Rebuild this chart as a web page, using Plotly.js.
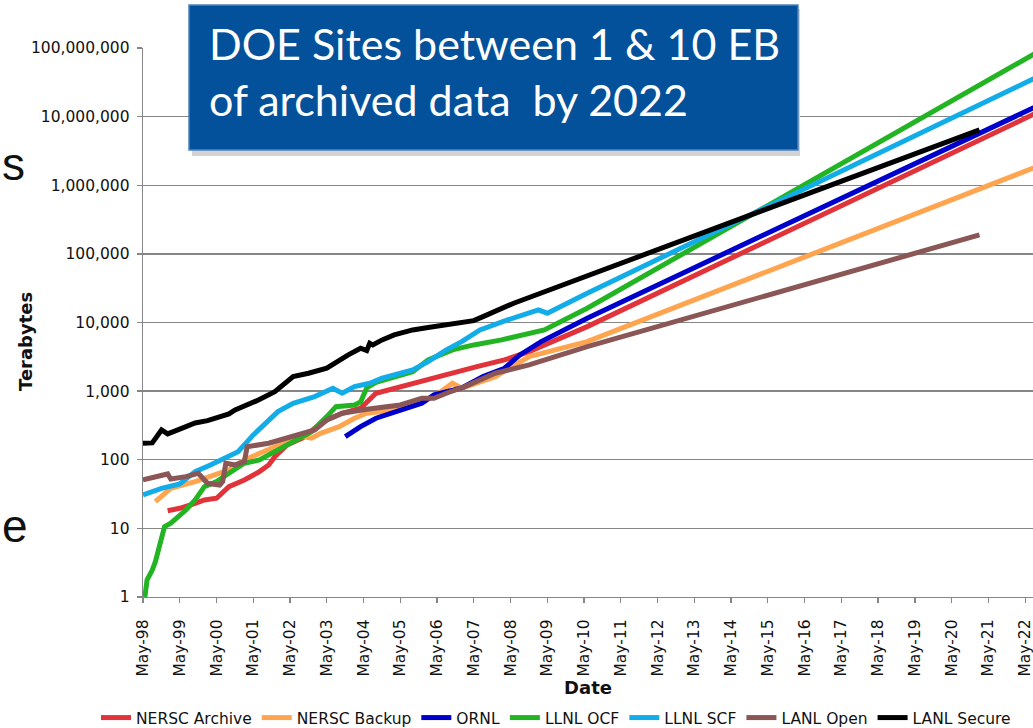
<!DOCTYPE html>
<html>
<head>
<meta charset="utf-8">
<script src="https://cdn.plot.ly/plotly-3.0.1.min.js"></script>
<style>html,body{margin:0;padding:0;background:#fff;}#chart{width:1033px;height:728px;}</style>
</head>
<body>
<div id="chart"></div>
<script>
// ---- Data (values in Terabytes) ----
var seriesNames = ['NERSC Archive','NERSC Backup','ORNL','LLNL OCF','LLNL SCF','LANL Open','LANL Secure'];
var seriesColors = ['#E1343A','#FFA54F','#0000CC','#22B422','#12ADE8','#8A5656','#000000'];

var nerscArchiveDates = ['1999-01-01','1999-05-01','1999-10-01','2000-01-01','2000-05-01','2000-07-01','2000-09-01','2001-02-01','2001-07-01','2001-10-01','2001-12-01','2002-04-01','2002-09-01','2003-01-01','2003-05-01','2003-10-01','2004-04-01','2004-09-01','2005-09-01','2006-07-01','2007-06-01','2008-03-01','2008-11-01','2010-06-01','2023-01-01'];
var nerscArchiveTB = [18.1,19.6,23.2,25.9,27.5,32.5,40.5,50.8,67.1,84,111,164,206,288,380,476,563,932,1303,1722,2276,2850,3767,8710,14000000];

var nerscBackupDates = ['1998-09-01','1998-11-01','1999-02-01','1999-10-01','2000-05-01','2000-09-01','2001-02-01','2001-10-01','2002-04-01','2002-09-01','2002-12-01','2003-03-01','2003-09-01','2004-02-01','2004-06-01','2005-03-01','2005-09-01','2006-04-01','2006-10-01','2007-01-01','2007-12-01','2008-11-01','2010-06-01','2023-01-01'];
var nerscBackupTB = [24.5,29,38.4,48,60,71,99.4,139,184,217,206,243,304,403,476,532,666,832,1303,1102,1626,3185,5270,2210000];

var ornlDates = ['2003-11-01','2004-04-01','2004-09-01','2005-05-01','2005-12-01','2006-04-01','2007-01-01','2007-08-01','2008-03-01','2008-08-01','2009-03-01','2010-06-01','2023-01-01'];
var ornlTB = [217,304,403,532,666,880,1113,1626,2157,3372,5270,11550,17400000];

var llnlOcfDates = ['1998-05-20','1998-06-10','1998-08-01','1998-09-01','1998-12-01','1999-02-01','1999-07-01','1999-10-01','2000-01-01','2000-05-01','2000-09-01','2001-02-01','2001-07-01','2001-12-01','2002-06-01','2002-12-01','2003-05-01','2003-08-01','2004-02-01','2004-04-01','2004-06-01','2004-09-01','2005-09-01','2006-02-01','2006-10-01','2007-05-01','2008-02-01','2008-11-01','2009-04-01','2010-06-01','2023-01-01'];
var llnlOcfTB = [1,1.77,2.47,3.27,10.6,11.9,18.5,25.9,40.5,48,63.6,88.9,99.4,131,184,257,425,594,629,696,1113,1340,1924,2850,3990,4713,5575,6980,7800,16150,110000000];

var llnlScfDates = ['1998-05-01','1998-11-01','1999-05-01','1999-10-01','2000-03-01','2000-09-01','2000-12-01','2001-05-01','2001-10-01','2002-01-01','2002-06-01','2003-01-01','2003-07-01','2003-10-01','2004-02-01','2004-07-01','2004-11-01','2005-09-01','2006-02-01','2006-08-01','2007-01-01','2007-07-01','2008-04-01','2009-02-01','2009-05-01','2010-06-01','2023-01-01'];
var llnlScfTB = [30.7,38.4,44.4,67.1,84,111,131,230,380,503,666,832,1102,932,1163,1303,1542,2037,2692,3990,5270,7800,10900,15270,13670,26700,46300000];

var lanlOpenDates = ['1998-05-01','1998-09-01','1999-01-01','1999-02-01','1999-07-01','1999-11-01','2000-02-01','2000-06-01','2000-07-01','2000-08-01','2000-11-01','2001-02-01','2001-03-01','2001-10-01','2002-06-01','2003-01-01','2003-05-01','2003-10-01','2004-06-01','2005-05-01','2005-12-01','2006-04-01','2006-08-01','2007-02-01','2007-12-01','2008-11-01','2010-06-01','2021-02-01'];
var lanlOpenTB = [50.8,56.7,62.1,52.5,56.7,63.6,45.4,42.9,48,88.9,84,93.8,155,174,217,272,380,476,545,629,788,788,932,1163,1823,2410,4455,189000];

var lanlSecureDates = ['1998-05-01','1998-08-01','1998-11-01','1999-01-01','1999-06-01','1999-10-01','2000-02-01','2000-09-01','2000-11-01','2001-06-01','2001-12-01','2002-06-01','2002-11-01','2003-05-01','2003-12-01','2004-04-01','2004-06-01','2004-07-01','2004-08-01','2004-11-01','2005-03-01','2005-09-01','2006-02-01','2006-11-01','2007-05-01','2007-08-01','2008-06-01','2021-02-01'];
var lanlSecureTB = [174,176,272,238,291,344,371,465,532,720,984,1626,1823,2157,3372,4220,3893,4990,4713,5575,6590,7800,8430,9770,10660,12190,19100,6420000];

var yTickVals = [1,10,100,1000,10000,100000,1000000,10000000,100000000];
var yTickText = ['1','10','100','1,000','10,000','100,000','1,000,000','10,000,000','100,000,000'];

var titleText = 'DOE Sites between 1 &amp; 10 EB<br>of archived data&nbsp; by 2022';
var xTitle = 'Date';
var yTitle = 'Terabytes';

// ---- Build traces ----
var xs = [nerscArchiveDates,nerscBackupDates,ornlDates,llnlOcfDates,llnlScfDates,lanlOpenDates,lanlSecureDates];
var ys = [nerscArchiveTB,nerscBackupTB,ornlTB,llnlOcfTB,llnlScfTB,lanlOpenTB,lanlSecureTB];
var traces = seriesNames.map(function(n,i){
  return {x: xs[i], y: ys[i], name: n, type:'scatter', mode:'lines',
          line:{color: seriesColors[i], width:5}};
});

function px2paperX(p){ return (p-143)/890; }
function px2paperY(p){ return (597-p)/549; }

var gridCol = '#868686';
var layout = {
  width:1033, height:728,
  margin:{l:143, r:0, t:48, b:131, pad:0, autoexpand:false},
  paper_bgcolor:'#ffffff', plot_bgcolor:'#ffffff',
  font:{family:'DejaVu Sans', color:'#111111'},
  showlegend:true,
  legend:{orientation:'h', x:px2paperX(96), xanchor:'left', y:px2paperY(718), yanchor:'middle',
          font:{size:15.5, family:'DejaVu Sans', color:'#111'}, bgcolor:'rgba(0,0,0,0)', traceorder:'normal'},
  xaxis:{type:'date', range:['1998-05-01','2022-07-18'], tick0:'1998-05-01', dtick:'M12', tickformat:'%b-%y',
         tickangle:-90, ticks:'outside', ticklen:5, tickcolor:gridCol, tickwidth:1.3,
         ticklabelstandoff:10, ticklabeloverflow:'allow',
         showgrid:false, zeroline:false, showline:true, linecolor:gridCol, linewidth:1.3,
         tickfont:{size:15.5, family:'DejaVu Sans', color:'#111'},
         title:{text:'<b>'+xTitle+'</b>', font:{size:18, family:'DejaVu Sans', color:'#111'}, standoff:3}},
  yaxis:{type:'log', range:[0,8], tickvals:yTickVals, ticktext:yTickText,
         ticks:'outside', ticklen:5, tickcolor:gridCol, tickwidth:1.3, ticklabelstandoff:4,
         showgrid:true, gridcolor:gridCol, gridwidth:1.3, zeroline:false,
         showline:true, linecolor:gridCol, linewidth:1.3,
         tickfont:{size:15.5, family:'DejaVu Sans', color:'#111'}},
  shapes:[
    {type:'rect', xref:'paper', yref:'paper', x0:px2paperX(192), x1:px2paperX(800), y0:px2paperY(156), y1:px2paperY(9),
     fillcolor:'#d3d3d3', line:{width:0}, layer:'above'},
    {type:'rect', xref:'paper', yref:'paper', x0:px2paperX(189), x1:px2paperX(798), y0:px2paperY(150), y1:px2paperY(5),
     fillcolor:'#03519A', line:{color:'#4F81BD', width:1.5}, layer:'above'}
  ],
  annotations:[
    {text:titleText, xref:'paper', yref:'paper', x:px2paperX(207), y:px2paperY(71), xanchor:'left', yanchor:'middle',
     align:'left', showarrow:false, font:{family:'Lato', size:43, color:'#ffffff'}},
    {text:'<b>'+yTitle+'</b>', xref:'paper', yref:'paper', x:px2paperX(25), y:px2paperY(341), xanchor:'center', yanchor:'middle',
     textangle:-90, showarrow:false, font:{size:18, family:'DejaVu Sans', color:'#111'}},
    {text:'s', xref:'paper', yref:'paper', x:px2paperX(0), y:px2paperY(164), xanchor:'left', yanchor:'middle',
     showarrow:false, font:{size:46, family:'Liberation Sans', color:'#111'}},
    {text:'e', xref:'paper', yref:'paper', x:px2paperX(0), y:px2paperY(526), xanchor:'left', yanchor:'middle',
     showarrow:false, font:{size:46, family:'Liberation Sans', color:'#111'}}
  ]
};

Plotly.newPlot('chart', traces, layout, {staticPlot:true, displayModeBar:false});
</script>
</body>
</html>
